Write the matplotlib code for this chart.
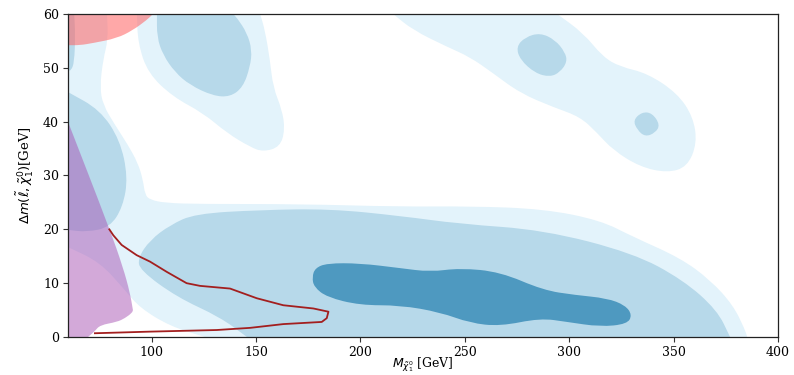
import matplotlib
matplotlib.use("Agg")
import matplotlib.pyplot as plt
import numpy as np
from matplotlib.path import Path
from matplotlib.patches import PathPatch

plt.rcParams['font.family'] = ['DejaVu Serif']
plt.rcParams['mathtext.fontset'] = 'dejavusans'

# ---- contour outlines (x: neutralino mass [GeV], y: mass gap [GeV]) ----
# lightest level
light_main_x = [60, 78.7, 79.2, 76.8, 75.3, 76.8, 82.5, 88.7, 93.5, 95.9, 96.9, 99.3, 106.5, 123.2, 171.1,
                219.0, 252.5, 287.5, 314.8, 330.6, 353.1, 367.5, 378.5, 384.2, 385.2,
                125.6, 108.9, 94.5, 87.3, 75.3, 60]
light_main_y = [60, 60, 55.2, 51.5, 46.4, 43.1, 39.4, 35.7, 32.3, 29.2, 26.4, 25.5, 24.9, 24.7, 24.7,
                24.2, 24.3, 23.8, 21.7, 18.6, 14.7, 10.6, 5.9, 1.3, 0,
                0, 2.0, 5.4, 8.7, 13.9, 16.7]
light_top_x = [93.0, 93.5, 98.3, 110.3, 124.7, 136.1, 147.2, 153.4, 161.5, 163.9, 162.5, 158.2, 156.7, 154.3, 152.0]
light_top_y = [60, 54.6, 49.0, 44.6, 41.6, 37.9, 35.3, 34.4, 35.3, 38.5, 42.2, 46.4, 51.5, 57.0, 60]
light_diag_x = [215.7, 225.2, 241.5, 252.5, 263.5, 276.5, 292.3, 305.2, 313.4, 321.0, 333.9, 346.9, 356.5,
                361.2, 359.3, 351.7, 337.3, 324.4, 316.2, 306.6, 294.2]
light_diag_y = [60, 57.0, 53.9, 52.0, 49.0, 45.3, 42.7, 40.9, 37.9, 34.7, 31.6, 30.5, 31.6,
                36.0, 40.9, 45.3, 49.0, 50.2, 52.0, 56.5, 60]

# middle level
mid_bottom_x = [93.5, 99.3, 108.9, 120.8, 152.0, 185.5, 219.0, 247.7, 287.5, 330.6, 354.5, 370.8, 377.0,
                145.7, 132.8, 112.2, 94.5]
mid_bottom_y = [14.7, 18.0, 20.8, 22.9, 23.6, 23.8, 22.5, 21.0, 19.9, 15.6, 10.6, 5.0, 0,
                0, 3.7, 7.4, 12.4]
mid_left_x = [60, 75.3, 84.9, 88.7, 86.3, 80.1, 69.1, 60]
mid_left_y = [45.5, 42.2, 36.6, 29.7, 24.2, 20.4, 19.5, 19.9]
mid_corner_x = [60, 63.0, 63.5, 63.0, 61.5, 60]
mid_corner_y = [60, 60, 56.0, 51.0, 49.5, 49.5]
mid_top_x = [102.6, 102.6, 105.5, 111.2, 118.4, 129.4, 137.6, 143.8, 147.2, 148.1, 145.7, 140.9, 139.0]
mid_top_y = [60, 55.7, 52.4, 49.2, 46.8, 44.8, 44.6, 46.4, 50.2, 53.3, 56.5, 59.3, 60]
mid_blob1_x = [274.6, 278.9, 286.1, 293.2, 298.0, 299.0, 295.6, 290.8, 283.7, 276.5]
mid_blob1_y = [53.9, 55.7, 56.5, 55.2, 52.9, 51.1, 49.2, 48.3, 49.0, 51.5]
mid_blob2_x = [330.6, 334.9, 339.7, 343.5, 341.1, 336.3, 332.5]
mid_blob2_y = [40.3, 41.8, 41.6, 39.4, 37.9, 37.2, 38.5]

# innermost level
dark_x = [176.9, 178.3, 184.0, 199.8, 219.0, 233.4, 247.7, 266.9, 287.5, 302.8, 318.1, 326.8, 330.1,
          327.7, 314.8, 299.0, 286.1, 266.9, 252.5, 238.2, 219.0, 199.8, 184.0, 177.8]
dark_y = [11.1, 12.8, 13.7, 13.7, 12.8, 12.1, 12.8, 12.1, 8.7, 7.8, 7.2, 5.9, 4.1,
          2.4, 1.9, 2.8, 3.5, 2.0, 2.6, 4.6, 5.9, 5.9, 7.4, 9.3]

# excluded regions
purple_x = [60, 60, 80.1, 86.3, 89.7, 91.1, 90.7, 87.3, 83.5, 75.3, 72.9, 69.6]
purple_y = [0, 40, 19.9, 13.0, 8.2, 5.0, 4.5, 3.5, 2.8, 2.2, 1.1, 0]
red_x = [60, 60, 65.7, 72.0, 83.5, 91.1, 97.8, 100.7]
red_y = [60, 54.2, 54.2, 54.6, 55.5, 57.0, 58.9, 60]

# red contour line
line_x = [79.8, 81.7, 85.7, 92.9, 99.3, 107.3, 116.8, 123.2, 137.6, 144.0, 150.4, 163.1, 177.5, 184.7,
          183.9, 181.5, 163.1, 147.2, 131.2, 99.3, 72.9]
line_y = [20.0, 18.9, 17.1, 15.2, 14.0, 12.1, 10.0, 9.5, 9.0, 8.1, 7.2, 5.9, 5.3, 4.7,
          3.5, 2.8, 2.4, 1.7, 1.3, 1.0, 0.7]

XMIN, XMAX, YMIN, YMAX = 60, 400, 0, 60

C_LIGHT = '#e3f3fb'
C_MID = '#b7d9ea'
C_DARK = '#4e99c0'


def smooth_patch(xs, ys, sharp_pts=(), **kw):
    """Closed outline drawn with quadratic Bezier segments; points on the frame stay sharp."""
    pts = []
    for x, y in zip(xs, ys):
        on_edge = x in (XMIN, XMAX) or y in (YMIN, YMAX)
        pts.append((x, y))
        if on_edge or (x, y) in sharp_pts:
            pts.append((x, y))
    P = np.array(pts, dtype=float)
    n = len(P)
    M = (P + np.roll(P, -1, axis=0)) / 2.0
    verts = [M[-1]]
    codes = [Path.MOVETO]
    for i in range(n):
        verts += [P[i], M[i]]
        codes += [Path.CURVE3, Path.CURVE3]
    verts.append(M[-1])
    codes.append(Path.CLOSEPOLY)
    return PathPatch(Path(verts, codes), **kw)


fig = plt.figure(figsize=(7.94, 3.75), dpi=100)
ax = fig.add_axes([0.0856, 0.1013, 0.8944, 0.8614])

for xs, ys in [(light_main_x, light_main_y), (light_top_x, light_top_y), (light_diag_x, light_diag_y)]:
    ax.add_patch(smooth_patch(xs, ys, facecolor=C_LIGHT, lw=0))
for xs, ys in [(mid_bottom_x, mid_bottom_y), (mid_left_x, mid_left_y), (mid_corner_x, mid_corner_y),
               (mid_top_x, mid_top_y), (mid_blob1_x, mid_blob1_y), (mid_blob2_x, mid_blob2_y)]:
    ax.add_patch(smooth_patch(xs, ys, facecolor=C_MID, lw=0))
ax.add_patch(smooth_patch(dark_x, dark_y, facecolor=C_DARK, lw=0))

ax.add_patch(smooth_patch(purple_x, purple_y, sharp_pts=[(91.1, 5.0)],
                          facecolor='#a855b5', alpha=0.5, lw=0))
ax.add_patch(smooth_patch(red_x, red_y, facecolor='#ff6262', alpha=0.55, lw=0))
ax.plot(line_x, line_y, color='#a31f1f', lw=1.3)

ax.set_xlim(XMIN, XMAX)
ax.set_ylim(YMIN, YMAX)
ax.set_xticks([100, 150, 200, 250, 300, 350, 400])
ax.set_yticks([0, 10, 20, 30, 40, 50, 60])
ax.tick_params(labelsize=9, length=3.5, width=0.8, color='#333333', pad=3)
for s in ax.spines.values():
    s.set_color('#222222')
    s.set_linewidth(0.9)

ax.set_xlabel(r'$M_{\tilde{\chi}_1^0}$ [GeV]', fontsize=9, labelpad=-2.5)
ax.set_ylabel(r'$\Delta m(\tilde{\ell},\tilde{\chi}_1^0)$[GeV]', fontsize=9.5, labelpad=5)

fig.savefig('out.png', dpi=100)
